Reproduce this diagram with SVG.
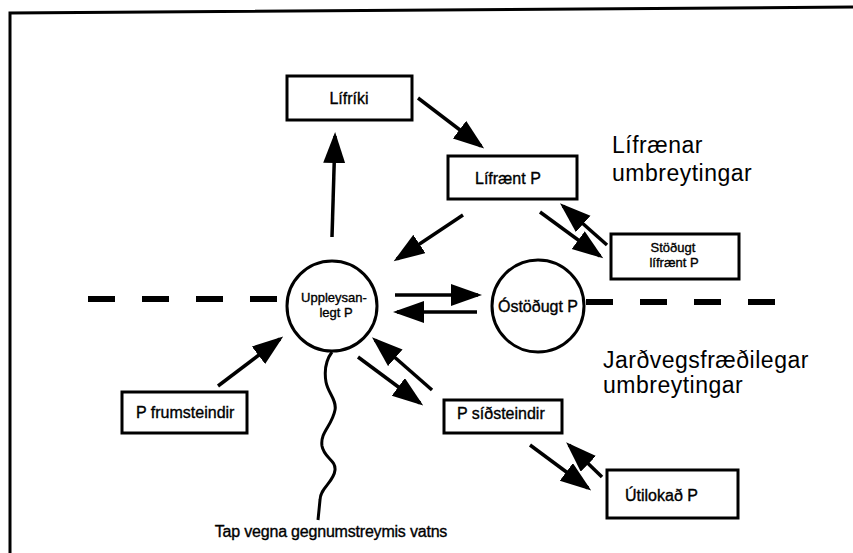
<svg xmlns="http://www.w3.org/2000/svg" width="853" height="553" viewBox="0 0 853 553">
<style>
.bg{fill:#ffffff}
.frame{fill:none;stroke:#000;stroke-width:3}
.box{fill:#fff;stroke:#000;stroke-width:3}
.circ{fill:#fff;stroke:#000;stroke-width:3}
.t{font-family:"Liberation Sans",Arial,sans-serif;font-size:16px;fill:#000;stroke:#000;stroke-width:0.35}
.t2{font-family:"Liberation Sans",Arial,sans-serif;font-size:13px;fill:#000;stroke:#000;stroke-width:0.35}
.big{font-family:"Liberation Sans",Arial,sans-serif;font-size:23px;letter-spacing:0.5px;fill:#000}
.arr{fill:none;stroke:#000;stroke-width:3.5;marker-end:url(#ah)}
.dash{fill:none;stroke:#000;stroke-width:6;stroke-dasharray:27 27}
.wave{fill:none;stroke:#000;stroke-width:3}
</style>
<defs>
<marker id="ah" markerUnits="userSpaceOnUse" markerWidth="32" markerHeight="24" refX="27" refY="11" orient="auto">
<path d="M0,0 L31,11 L0,22 z" fill="#000"/>
</marker>
</defs>
<rect class="bg" x="0" y="0" width="853" height="553"/>
<path class="frame" d="M10,553 L10,13 L853,7"/>

<g id="connectors">
<path class="dash" d="M88,299 L277,299"/>
<path class="dash" d="M586,302 L780,302"/>
<path class="arr" d="M332,237 L335,136"/>
<path class="arr" d="M418,98 L481,146"/>
<path class="arr" d="M463,215 L397,259"/>
<path class="arr" d="M540,212 L600,256"/>
<path class="arr" d="M607,245 L563,206"/>
<path class="arr" d="M395,295 L478,295"/>
<path class="arr" d="M477,312 L397,312"/>
<path class="arr" d="M218,386 L280,339"/>
<path class="arr" d="M432,390 L375,340"/>
<path class="arr" d="M358,357 L420,403"/>
<path class="arr" d="M530,445 L588,488"/>
<path class="arr" d="M602,477 L569,445"/>
<path class="wave" d="M332,352 C326,360 324,370 326,382 C328,393 337,400 335,410 C332,426 320,432 322,446 C324,458 336,460 335,470 C334,482 320,488 320,500 L318,520"/>
</g>

<g id="lifriki">
<rect class="box" x="287" y="76" width="125" height="44"/>
<text class="t" x="349" y="104" text-anchor="middle">Lífríki</text>
</g>
<g id="lifraent">
<rect class="box" x="448" y="156" width="129" height="43"/>
<text class="t" x="475" y="184">Lífrænt P</text>
</g>
<g id="stodugt">
<rect class="box" x="611" y="234" width="128" height="45"/>
<text class="t2" x="673" y="252" text-anchor="middle">Stöðugt</text>
<text class="t2" x="674" y="267" text-anchor="middle">lífrænt P</text>
</g>
<g id="uppleysanlegt">
<circle class="circ" cx="332" cy="306" r="45"/>
<text class="t2" x="334" y="302" text-anchor="middle">Uppleysan-</text>
<text class="t2" x="336" y="317" text-anchor="middle">legt P</text>
</g>
<g id="ostodugt">
<circle class="circ" cx="538" cy="306" r="46"/>
<text class="t" x="538" y="312" text-anchor="middle">Óstöðugt P</text>
</g>
<g id="frumsteindir">
<rect class="box" x="122" y="392" width="125" height="41"/>
<text class="t" x="136" y="418">P frumsteindir</text>
</g>
<g id="sidsteindir">
<rect class="box" x="444" y="400" width="118" height="33"/>
<text class="t" x="457" y="419">P síðsteindir</text>
</g>
<g id="utilokad">
<rect class="box" x="607" y="470" width="131" height="48"/>
<text class="t" x="625" y="501">Útilokað P</text>
</g>
<g id="label-lifraenar">
<text class="big" x="612" y="153">Lífrænar</text>
<text class="big" x="612" y="181">umbreytingar</text>
</g>
<g id="label-jardvegs">
<text class="big" x="603" y="368">Jarðvegsfræðilegar</text>
<text class="big" x="603" y="393">umbreytingar</text>
</g>
<g id="label-tap">
<text class="t" x="331" y="537" text-anchor="middle" letter-spacing="-0.2">Tap vegna gegnumstreymis vatns</text>
</g>
</svg>
